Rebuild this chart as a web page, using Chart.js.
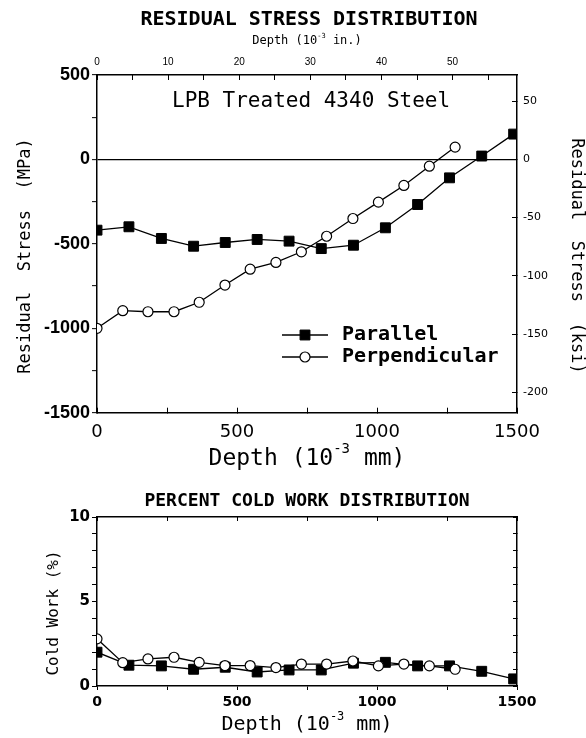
<!DOCTYPE html>
<html>
<head>
<meta charset="utf-8">
<script src="https://cdn.jsdelivr.net/npm/chart.js@4.4.1/dist/chart.umd.min.js"></script>
<style>
  body { margin: 0; background: #fff; }
  #wrap { position: relative; width: 586px; height: 738px; }
  canvas { position: absolute; left: 0; }
  #stressChart { top: 0; }
  #coldChart { top: 480px; }
</style>
</head>
<body>
<div id="wrap">
  <canvas id="stressChart" width="586" height="480"></canvas>
  <canvas id="coldChart" width="586" height="258"></canvas>
</div>
<script>
// depths (10^-3 mm) where each series was measured
const depthParallel = [0, 114, 230, 345, 458, 572, 686, 801, 916, 1030, 1145, 1259, 1374, 1488];
const depthPerpendicular = [0, 92, 182, 275, 365, 457, 547, 639, 730, 820, 914, 1005, 1096, 1187, 1279];

// residual stress (MPa)
const stressParallel = [-419, -399, -468, -514, -492, -474, -484, -528, -508, -405, -267, -109, 20, 150];
const stressPerpendicular = [-1000, -896, -902, -902, -846, -744, -650, -610, -547, -455, -350, -253, -154, -40, 73];

// percent cold work
const coldParallel = [2.0, 1.23, 1.19, 0.99, 1.11, 0.83, 0.95, 0.95, 1.35, 1.40, 1.19, 1.19, 0.87, 0.42];
const coldPerpendicular = [2.79, 1.38, 1.60, 1.70, 1.40, 1.21, 1.21, 1.09, 1.30, 1.30, 1.48, 1.19, 1.30, 1.19, 0.99];

const seriesNames = ['Parallel', 'Perpendicular'];
const MPA_PER_KSI = 6.894757;
const MM_PER_IN = 25.4;

const MONO = '"DejaVu Sans Mono", monospace';
Chart.defaults.font.family = '"Liberation Sans", Arial, sans-serif';
Chart.defaults.color = '#000';

function points(xs, ys) {
  return xs.map((x, i) => ({ x: x, y: ys[i] }));
}

// only label every n-th unit, leave the minor ticks blank
function every(n) {
  return value => (Math.abs(value % n) < 1e-6 ? String(value) : '');
}

// pin the axis boxes so the plot area lands where the original has it
const fixWidth = w => scale => { scale.width = w; };
const fixHeight = h => scale => { scale.height = h; };

function parallelSet(data) {
  return {
    label: seriesNames[0], data: data, showLine: true,
    borderColor: '#000', borderWidth: 1.3,
    pointStyle: 'rect', pointRadius: 7, pointHoverRadius: 7,
    pointBackgroundColor: '#000', pointBorderColor: '#000', pointBorderWidth: 1
  };
}
function perpendicularSet(data) {
  return {
    label: seriesNames[1], data: data, showLine: true,
    borderColor: '#000', borderWidth: 1.3,
    pointStyle: 'circle', pointRadius: 5, pointHoverRadius: 5,
    pointBackgroundColor: '#fff', pointBorderColor: '#000', pointBorderWidth: 1.2
  };
}

function drawDepthTitle(ctx, cx, cy, size, unit) {
  const a = 'Depth (10', sup = '-3', b = ' ' + unit + ')';
  const mainFont = size + 'px ' + MONO;
  const supFont = Math.round(size * 0.6) + 'px ' + MONO;
  ctx.font = mainFont;
  const wa = ctx.measureText(a).width, wb = ctx.measureText(b).width;
  ctx.font = supFont;
  const ws = ctx.measureText(sup).width;
  let x = cx - (wa + ws + wb) / 2;
  ctx.textAlign = 'left';
  ctx.textBaseline = 'middle';
  ctx.font = mainFont; ctx.fillText(a, x, cy); x += wa;
  ctx.font = supFont; ctx.fillText(sup, x, cy - size * 0.42); x += ws;
  ctx.font = mainFont; ctx.fillText(b, x, cy);
}

function drawRotated(ctx, text, x, y, angle, font) {
  ctx.save();
  ctx.translate(x, y);
  ctx.rotate(angle);
  ctx.font = font;
  ctx.textAlign = 'center';
  ctx.textBaseline = 'middle';
  ctx.fillText(text, 0, 0);
  ctx.restore();
}

const stressText = {
  id: 'stressText',
  afterDraw(chart) {
    const ctx = chart.ctx;
    ctx.save();
    ctx.fillStyle = '#000';
    ctx.textAlign = 'center';
    ctx.textBaseline = 'middle';
    ctx.font = 'bold 20px ' + MONO;
    ctx.fillText('RESIDUAL STRESS DISTRIBUTION', 309, 20);
    drawDepthTitle(ctx, 307, 41, 12, 'in.');
    drawDepthTitle(ctx, 307, 459, 23, 'mm');
    drawRotated(ctx, 'Residual  Stress  (MPa)', 26, 256, -Math.PI / 2, '17px ' + MONO);
    drawRotated(ctx, 'Residual  Stress  (ksi)', 576, 256, Math.PI / 2, '17px ' + MONO);

    ctx.font = '21px ' + MONO;
    ctx.textAlign = 'left';
    ctx.fillText('LPB Treated 4340 Steel', 172, 102);

    // legend inside the plot
    const rows = [335, 357];
    chart.data.datasets.forEach((ds, i) => {
      const y = rows[i];
      ctx.strokeStyle = '#000';
      ctx.lineWidth = 1.3;
      ctx.beginPath();
      ctx.moveTo(282, y);
      ctx.lineTo(328, y);
      ctx.stroke();
      ctx.fillStyle = ds.pointBackgroundColor;
      ctx.strokeStyle = ds.pointBorderColor;
      ctx.lineWidth = ds.pointBorderWidth;
      Chart.helpers.drawPoint(ctx, {
        pointStyle: ds.pointStyle, radius: ds.pointRadius,
        borderWidth: ds.pointBorderWidth, rotation: 0
      }, 305, y);
      ctx.fillStyle = '#000';
      ctx.font = 'bold 20px ' + MONO;
      ctx.textBaseline = 'middle';
      ctx.fillText(ds.label, 342, y);
    });
    ctx.restore();
  }
};

const coldText = {
  id: 'coldText',
  afterDraw(chart) {
    const ctx = chart.ctx;
    ctx.save();
    ctx.fillStyle = '#000';
    ctx.textAlign = 'center';
    ctx.textBaseline = 'middle';
    ctx.font = 'bold 18px ' + MONO;
    ctx.fillText('PERCENT COLD WORK DISTRIBUTION', 307, 21);
    drawRotated(ctx, 'Cold Work (%)', 54, 133, -Math.PI / 2, '16px ' + MONO);
    drawDepthTitle(ctx, 307, 245, 20, 'mm');
    ctx.restore();
  }
};

const axisBorder = { color: '#000', width: 1.5 };

new Chart(document.getElementById('stressChart'), {
  type: 'scatter',
  data: {
    datasets: [
      parallelSet(points(depthParallel, stressParallel)),
      perpendicularSet(points(depthPerpendicular, stressPerpendicular))
    ]
  },
  options: {
    responsive: false,
    animation: false,
    layout: { padding: 0 },
    plugins: { legend: { display: false }, tooltip: { enabled: false } },
    scales: {
      x: {
        type: 'linear', position: 'bottom', min: 0, max: 1500,
        afterFit: fixHeight(67.3),
        border: axisBorder,
        grid: { drawOnChartArea: false, tickLength: -5, tickColor: '#000', tickWidth: 1 },
        ticks: { stepSize: 250, autoSkip: false, maxRotation: 0, padding: 14,
                 callback: every(500), font: { family: '"DejaVu Sans"', size: 18 } }
      },
      xTop: {
        type: 'linear', position: 'top', min: 0, max: 1500 / MM_PER_IN,
        afterFit: fixHeight(75),
        border: axisBorder,
        grid: { drawOnChartArea: false, tickLength: -5, tickColor: '#000', tickWidth: 1 },
        ticks: { stepSize: 5, includeBounds: false, autoSkip: false, maxRotation: 0, padding: 12,
                 callback: every(10), font: { size: 10 } }
      },
      y: {
        type: 'linear', position: 'left', min: -1500, max: 500,
        afterFit: fixWidth(97),
        border: axisBorder,
        grid: {
          drawOnChartArea: true, tickLength: 5, tickColor: '#000', tickWidth: 1, lineWidth: 1.3,
          color: ctx => (ctx.tick && ctx.tick.value === 0 ? '#000' : 'rgba(0,0,0,0)')
        },
        ticks: { stepSize: 250, autoSkip: false, padding: 2,
                 callback: every(500), font: { size: 18, weight: 'bold' } }
      },
      yRight: {
        type: 'linear', position: 'right', min: -1500 / MPA_PER_KSI, max: 500 / MPA_PER_KSI,
        afterFit: fixWidth(69),
        border: axisBorder,
        grid: { drawOnChartArea: false, tickLength: -5, tickColor: '#000', tickWidth: 1 },
        ticks: { stepSize: 50, includeBounds: false, autoSkip: false, padding: 11,
                 callback: every(50), font: { family: '"DejaVu Sans"', size: 11 } }
      }
    }
  },
  plugins: [stressText]
});

new Chart(document.getElementById('coldChart'), {
  type: 'scatter',
  data: {
    datasets: [
      perpendicularSet(points(depthPerpendicular, coldPerpendicular)),
      parallelSet(points(depthParallel, coldParallel))
    ]
  },
  options: {
    responsive: false,
    animation: false,
    layout: { padding: 0 },
    plugins: { legend: { display: false }, tooltip: { enabled: false } },
    scales: {
      x: {
        type: 'linear', position: 'bottom', min: 0, max: 1500,
        afterFit: fixHeight(52),
        border: axisBorder,
        grid: { drawOnChartArea: false, tickLength: 4, tickColor: '#000', tickWidth: 1 },
        ticks: { stepSize: 250, autoSkip: false, maxRotation: 0, padding: 4,
                 callback: every(500), font: { family: '"DejaVu Sans"', size: 14, weight: 'bold' } }
      },
      xTop: {
        type: 'linear', position: 'top', min: 0, max: 1500,
        afterFit: fixHeight(37),
        border: axisBorder,
        grid: { drawOnChartArea: false, tickLength: -4, tickColor: '#000', tickWidth: 1 },
        ticks: { stepSize: 250, autoSkip: false, callback: () => '' }
      },
      y: {
        type: 'linear', position: 'left', min: 0, max: 10,
        afterFit: fixWidth(97),
        border: axisBorder,
        grid: { drawOnChartArea: false, tickLength: 5, tickColor: '#000', tickWidth: 1 },
        ticks: { stepSize: 1, autoSkip: false, padding: 2,
                 callback: every(5), font: { family: '"DejaVu Sans"', size: 15, weight: 'bold' } }
      },
      yRight: {
        type: 'linear', position: 'right', min: 0, max: 10,
        afterFit: fixWidth(69),
        border: axisBorder,
        grid: { drawOnChartArea: false, tickLength: -4, tickColor: '#000', tickWidth: 1 },
        ticks: { stepSize: 1, autoSkip: false, callback: () => '' }
      }
    }
  },
  plugins: [coldText]
});
</script>
</body>
</html>
